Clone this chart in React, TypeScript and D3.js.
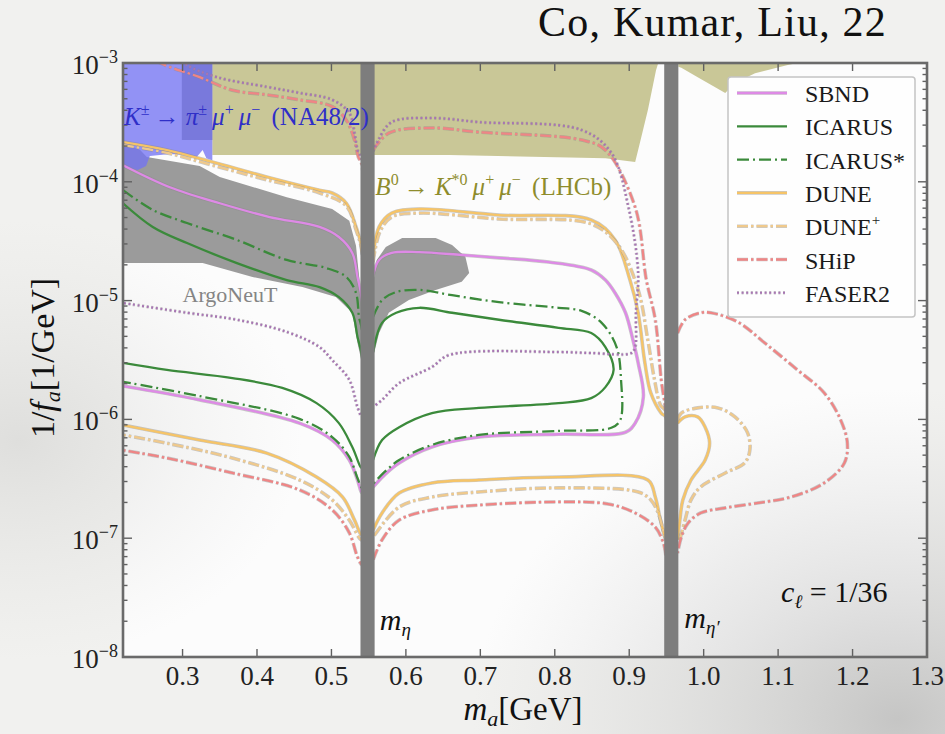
import React from 'react';
import * as d3 from 'd3';

type Pt = [number, number];

const W = 945;
const H = 734;
const margin = { top: 63, right: 18, bottom: 77, left: 123 };

// axis ticks
const massTicks = [0.3, 0.4, 0.5, 0.6, 0.7, 0.8, 0.9, 1.0, 1.1, 1.2, 1.3];
const massTickLabels = ['0.3', '0.4', '0.5', '0.6', '0.7', '0.8', '0.9', '1.0', '1.1', '1.2', '1.3'];
const couplingTicks = [1e-3, 1e-4, 1e-5, 1e-6, 1e-7, 1e-8];
const couplingTickExps = ['−3', '−4', '−5', '−6', '−7', '−8'];

// resonance bands (GeV)
const etaBand = [0.539, 0.558];
const etaPrimeBand = [0.947, 0.966];

// excluded regions [m_a, 1/f_a]
const lhcbRegion: Pt[] = [[0.340, 1e-3], [0.939, 1e-3], [0.936, 8.7e-4], [0.925, 4.0e-4], [0.912, 1.85e-4], [0.908, 1.47e-4], [0.868, 1.58e-4], [0.658, 1.68e-4], [0.340, 1.68e-4]];
const lhcbRegionRight: Pt[] = [[0.966, 1e-3], [0.966, 9.3e-4], [0.970, 9.1e-4], [0.992, 7.6e-4], [1.029, 5.6e-4], [1.042, 6.8e-4], [1.069, 8.2e-4], [1.113, 9.6e-4], [1.126, 1e-3]];
const na48Region: Pt[] = [[0.220, 1e-3], [0.340, 1e-3], [0.340, 1.52e-4], [0.332, 1.58e-4], [0.327, 1.85e-4], [0.319, 1.62e-4], [0.303, 1.68e-4], [0.283, 1.71e-4], [0.256, 1.65e-4], [0.251, 1.36e-4], [0.240, 1.26e-4], [0.220, 1.31e-4]];
const greyStrip: Pt[] = [[0.299, 1e-3], [0.340, 1e-3], [0.340, 2.25e-4], [0.299, 2.25e-4]];
const argoneutLeft: Pt[] = [[0.220, 2.12e-4], [0.243, 1.85e-4], [0.252, 1.62e-4], [0.323, 1.36e-4], [0.350, 1.1e-4], [0.440, 7.4e-5], [0.501, 5.9e-5], [0.524, 4.7e-5], [0.533, 2.9e-5], [0.537, 1.6e-5], [0.540, 1.0e-5], [0.540, 3.16e-6], [0.535, 4.4e-6], [0.528, 7.9e-6], [0.506, 1.07e-5], [0.461, 1.30e-5], [0.394, 1.58e-5], [0.327, 2.07e-5], [0.220, 2.07e-5]];
const argoneutRight: Pt[] = [[0.556, 1.41e-5], [0.561, 2.2e-5], [0.573, 2.83e-5], [0.595, 3.37e-5], [0.640, 3.37e-5], [0.662, 2.94e-5], [0.680, 2.33e-5], [0.685, 1.71e-5], [0.675, 1.44e-5], [0.640, 1.23e-5], [0.604, 1.01e-5], [0.577, 7.9e-6], [0.564, 5.33e-6], [0.556, 3.35e-6]];

// sensitivity contours, split by the eta / eta' bands
const sbndLeft: Pt[] = [[0.220, 1.38e-4], [0.283, 9.0e-5], [0.350, 6.6e-5], [0.417, 5.05e-5], [0.484, 4.17e-5], [0.510, 3.43e-5], [0.528, 2.52e-5], [0.535, 1.58e-5], [0.541, 1.0e-5], [0.541, 2.4e-7], [0.535, 3.09e-7], [0.524, 4.55e-7], [0.501, 6.7e-7], [0.457, 9.3e-7], [0.323, 1.46e-6], [0.220, 1.91e-6]];
const sbndMid: Pt[] = [[0.556, 1.64e-5], [0.564, 2.2e-5], [0.581, 2.52e-5], [0.618, 2.56e-5], [0.675, 2.42e-5], [0.725, 2.29e-5], [0.792, 2.11e-5], [0.849, 1.81e-5], [0.868, 1.49e-5], [0.881, 1.16e-5], [0.895, 7.9e-6], [0.905, 4.66e-6], [0.912, 2.99e-6], [0.919, 1.55e-6], [0.908, 9.3e-7], [0.895, 7.8e-7], [0.805, 7.5e-7], [0.698, 7.1e-7], [0.635, 5.86e-7], [0.591, 4.3e-7], [0.571, 3.4e-7], [0.556, 2.7e-7]];

const icarusLeft: Pt[] = [[0.220, 6.6e-5], [0.260, 4.17e-5], [0.306, 3.05e-5], [0.373, 2.07e-5], [0.440, 1.49e-5], [0.484, 1.30e-5], [0.510, 1.07e-5], [0.528, 7.9e-6], [0.535, 4.94e-6], [0.541, 3.35e-6], [0.541, 3.9e-7], [0.528, 5.86e-7], [0.510, 9.3e-7], [0.480, 1.37e-6], [0.434, 1.84e-6], [0.367, 2.23e-6], [0.279, 2.61e-6], [0.220, 2.99e-6]];
const icarusMid: Pt[] = [[0.556, 3.69e-6], [0.568, 6.5e-6], [0.587, 7.9e-6], [0.618, 8.7e-6], [0.662, 7.9e-6], [0.725, 6.9e-6], [0.805, 5.9e-6], [0.849, 5.33e-6], [0.868, 4.06e-6], [0.879, 2.61e-6], [0.868, 1.87e-6], [0.849, 1.51e-6], [0.805, 1.37e-6], [0.698, 1.25e-6], [0.635, 1.13e-6], [0.591, 8.6e-7], [0.568, 6.7e-7], [0.556, 4.55e-7]];

const icarusStarLeft: Pt[] = [[0.220, 8.5e-5], [0.260, 5.8e-5], [0.306, 4.5e-5], [0.373, 3.24e-5], [0.440, 2.2e-5], [0.493, 1.88e-5], [0.520, 1.58e-5], [0.533, 1.16e-5], [0.537, 7.3e-6], [0.541, 5.66e-6], [0.541, 2.65e-7], [0.535, 3.2e-7], [0.524, 4.83e-7], [0.501, 7.1e-7], [0.457, 1.01e-6], [0.323, 1.57e-6], [0.220, 2.07e-6]];
const icarusStarMid: Pt[] = [[0.556, 7.3e-6], [0.568, 1.01e-5], [0.587, 1.18e-5], [0.618, 1.23e-5], [0.662, 1.11e-5], [0.725, 9.7e-6], [0.805, 8.7e-6], [0.836, 8.2e-6], [0.863, 6.5e-6], [0.883, 4.06e-6], [0.889, 2.15e-6], [0.888, 9.9e-7], [0.876, 8.5e-7], [0.805, 8.0e-7], [0.698, 7.4e-7], [0.635, 6.1e-7], [0.591, 4.55e-7], [0.571, 3.6e-7], [0.556, 2.86e-7]];

const duneLeft: Pt[] = [[0.220, 2.16e-4], [0.279, 1.85e-4], [0.340, 1.47e-4], [0.413, 1.10e-4], [0.484, 8.5e-5], [0.501, 8.05e-5], [0.520, 6.6e-5], [0.533, 4.17e-5], [0.541, 2.67e-5], [0.541, 1.06e-7], [0.531, 1.42e-7], [0.515, 2.22e-7], [0.480, 3.27e-7], [0.413, 5.2e-7], [0.323, 6.7e-7], [0.220, 8.97e-7]];
const duneMid: Pt[] = [[0.556, 2.29e-5], [0.564, 4.17e-5], [0.581, 5.45e-5], [0.618, 5.9e-5], [0.725, 5.25e-5], [0.849, 4.77e-5], [0.881, 3.24e-5], [0.901, 1.49e-5], [0.912, 7.9e-6], [0.921, 3.0e-6], [0.929, 1.67e-6], [0.943, 1.13e-6], [0.950, 1.03e-6], [0.950, 9.7e-8], [0.942, 1.42e-7], [0.935, 2.22e-7], [0.925, 3.09e-7], [0.805, 3.27e-7], [0.698, 3.09e-7], [0.635, 2.92e-7], [0.591, 2.4e-7], [0.568, 1.63e-7], [0.556, 1.17e-7]];
const duneRight: Pt[] = [[0.965, 9.3e-7], [0.975, 1.05e-6], [0.992, 1.05e-6], [1.002, 8.6e-7], [1.008, 6.3e-7], [1.002, 4.55e-7], [0.983, 3.09e-7], [0.972, 2.1e-7], [0.968, 1.42e-7], [0.965, 9.7e-8]];

const dunePlusLeft: Pt[] = [[0.220, 2.04e-4], [0.279, 1.75e-4], [0.340, 1.38e-4], [0.413, 1.04e-4], [0.484, 8.05e-5], [0.520, 6.25e-5], [0.533, 3.93e-5], [0.541, 2.56e-5], [0.541, 9.7e-8], [0.524, 1.42e-7], [0.501, 2.1e-7], [0.457, 3.09e-7], [0.367, 4.73e-7], [0.279, 6.3e-7], [0.220, 7.4e-7]];
const dunePlusMid: Pt[] = [[0.556, 2.11e-5], [0.565, 3.78e-5], [0.581, 5.05e-5], [0.618, 5.45e-5], [0.725, 4.86e-5], [0.849, 4.41e-5], [0.885, 2.94e-5], [0.912, 1.23e-5], [0.925, 4.66e-6], [0.934, 2.15e-6], [0.942, 1.32e-6], [0.950, 1.15e-6], [0.950, 9.7e-8], [0.939, 1.63e-7], [0.929, 2.1e-7], [0.912, 2.45e-7], [0.805, 2.65e-7], [0.698, 2.45e-7], [0.635, 2.22e-7], [0.591, 1.83e-7], [0.556, 1.02e-7]];
const dunePlusRight: Pt[] = [[0.965, 9.9e-7], [0.970, 1.13e-6], [0.992, 1.25e-6], [1.019, 1.25e-6], [1.042, 1.05e-6], [1.059, 7.7e-7], [1.062, 5.5e-7], [1.055, 4.3e-7], [1.029, 3.54e-7], [0.996, 2.7e-7], [0.983, 2.1e-7], [0.975, 1.42e-7], [0.968, 9.7e-8]];

const shipLeft: Pt[] = [[0.243, 1.28e-3], [0.270, 1.0e-3], [0.323, 7.6e-4], [0.367, 5.9e-4], [0.413, 5.4e-4], [0.457, 4.9e-4], [0.501, 4.3e-4], [0.520, 3.3e-4], [0.531, 2.25e-4], [0.536, 1.62e-4], [0.541, 1.38e-4], [0.541, 6.0e-8], [0.535, 6.95e-8], [0.524, 1.11e-7], [0.501, 1.73e-7], [0.457, 2.55e-7], [0.367, 3.54e-7], [0.279, 4.73e-7], [0.220, 5.5e-7]];
const shipMid: Pt[] = [[0.556, 1.85e-4], [0.577, 2.57e-4], [0.635, 2.84e-4], [0.698, 2.62e-4], [0.836, 2.25e-4], [0.868, 1.85e-4], [0.908, 6.1e-5], [0.923, 1.49e-5], [0.935, 6.9e-6], [0.943, 2.15e-6], [0.950, 9.9e-7], [0.950, 6.95e-8], [0.946, 9.1e-8], [0.935, 1.24e-7], [0.908, 1.63e-7], [0.872, 1.94e-7], [0.805, 2.02e-7], [0.698, 1.9e-7], [0.635, 1.73e-7], [0.591, 1.42e-7], [0.568, 9.7e-8], [0.556, 6.55e-8]];
const shipRight: Pt[] = [[0.965, 5.33e-6], [0.975, 6.9e-6], [0.996, 7.9e-6], [1.010, 7.9e-6], [1.046, 6.6e-6], [1.082, 4.4e-6], [1.126, 2.61e-6], [1.162, 1.67e-6], [1.184, 9.9e-7], [1.193, 6.3e-7], [1.189, 4.3e-7], [1.162, 2.92e-7], [1.117, 2.22e-7], [1.073, 1.98e-7], [1.029, 1.8e-7], [0.996, 1.63e-7], [0.979, 1.34e-7], [0.970, 1.02e-7], [0.965, 7.5e-8]];

const faserLeft: Pt[] = [[0.290, 1.17e-3], [0.306, 9.6e-4], [0.346, 7.6e-4], [0.413, 6.3e-4], [0.457, 5.6e-4], [0.501, 4.9e-4], [0.524, 3.8e-4], [0.531, 2.57e-4], [0.535, 1.85e-4], [0.541, 1.52e-4], [0.541, 1.05e-6], [0.535, 1.27e-6], [0.524, 2.15e-6], [0.501, 3.16e-6], [0.484, 4.06e-6], [0.440, 5.45e-6], [0.373, 6.9e-6], [0.306, 7.9e-6], [0.220, 9.55e-6]];
const faserMid: Pt[] = [[0.556, 1.8e-4], [0.563, 2.25e-4], [0.581, 3.18e-4], [0.635, 3.44e-4], [0.698, 3.18e-4], [0.836, 2.73e-4], [0.876, 1.75e-4], [0.899, 6.1e-5], [0.912, 1.71e-5], [0.909, 7.9e-6], [0.908, 4.06e-6], [0.903, 3.62e-6], [0.849, 3.62e-6], [0.805, 3.69e-6], [0.658, 3.48e-6], [0.635, 2.76e-6], [0.591, 2.02e-6], [0.568, 1.46e-6], [0.556, 1.27e-6]];

const GREEN = '#3b8a3b';
const experiments = [
  { name: 'SBND', sup: '', color: '#de8ae6', width: 2.3, dash: '', segments: [sbndLeft, sbndMid] },
  { name: 'ICARUS', sup: '', color: GREEN, width: 2.3, dash: '', segments: [icarusLeft, icarusMid] },
  { name: 'ICARUS*', sup: '', color: GREEN, width: 2.3, dash: '12,4,2,4', segments: [icarusStarLeft, icarusStarMid] },
  { name: 'DUNE', sup: '', color: '#f6c467', width: 2.3, dash: '', segments: [duneLeft, duneMid, duneRight] },
  { name: 'DUNE', sup: '+', color: '#efc98c', width: 2.3, dash: '11,3,2.5,3', segments: [dunePlusLeft, dunePlusMid, dunePlusRight] },
  { name: 'SHiP', sup: '', color: '#ef8585', width: 2.3, dash: '11,3,2.5,3', segments: [shipLeft, shipMid, shipRight] },
  { name: 'FASER2', sup: '', color: '#a874b4', width: 2.1, dash: '2,2.6', segments: [faserLeft, faserMid] },
];

const FONT = 'Liberation Serif, DejaVu Serif, serif';

const App = () => {
  const x = d3.scaleLinear().domain([0.22, 1.3]).range([margin.left, W - margin.right]);
  const y = d3.scaleLog().domain([1e-8, 1e-3]).range([H - margin.bottom, margin.top]);
  const [x0, x1] = x.range();
  const [y0, y1] = [y(1e-3), y(1e-8)];

  const curve = d3.line<Pt>().x(d => x(d[0])).y(d => y(d[1])).curve(d3.curveCatmullRom.alpha(0.5));
  const poly = (pts: Pt[]) => (d3.line<Pt>().x(d => x(d[0])).y(d => y(d[1]))(pts) || '') + 'Z';

  const minor = y.ticks().filter(t => Math.abs(Math.log10(t) - Math.round(Math.log10(t))) > 1e-6);

  const sup = (s: string, size = 16, up = 10) => [
    <tspan key="a" dy={-up} fontSize={size}>{s}</tspan>,
    <tspan key="b" dy={up}>{'\u2009'}</tspan>,
  ];

  return (
    <svg width={W} height={H} style={{ position: 'absolute', left: 0, top: 0, fontFamily: FONT }}>
      <defs>
        <clipPath id="plotClip">
          <rect x={x0} y={y0} width={x1 - x0} height={y1 - y0} />
        </clipPath>
        <radialGradient id="cloud" cx="0.95" cy="0.98" r="0.45">
          <stop offset="0" stopColor="#a8a8a8" stopOpacity={0.6} />
          <stop offset="0.6" stopColor="#c4c4c4" stopOpacity={0.28} />
          <stop offset="1" stopColor="#d0d0d0" stopOpacity={0} />
        </radialGradient>
        <radialGradient id="cloudLeft" cx="0.02" cy="0.6" r="0.3">
          <stop offset="0" stopColor="#c8c8c6" stopOpacity={0.45} />
          <stop offset="1" stopColor="#d8d8d6" stopOpacity={0} />
        </radialGradient>
      </defs>

      <rect width={W} height={H} fill="#f1f1ef" />
      <rect x={x0} y={y0} width={x1 - x0} height={y1 - y0} fill="#fcfcfc" />
      <rect width={W} height={H} fill="url(#cloud)" />
      <rect width={W} height={H} fill="url(#cloudLeft)" />

      <g clipPath="url(#plotClip)">
        <path d={poly(lhcbRegion)} fill="#c9c797" />
        <path d={poly(lhcbRegionRight)} fill="#c9c797" />
        <path d={poly(argoneutLeft)} fill="#9b9b9b" />
        <path d={poly(argoneutRight)} fill="#9b9b9b" />
        <path d={poly(greyStrip)} fill="#8e8e8e" />
        <path d={poly(na48Region)} fill="#7373f2" fillOpacity={0.78} />

        {experiments.map(e =>
          e.segments.map((seg, i) => (
            <g key={e.name + e.sup + i}>
              {e.color !== GREEN && (
                <path d={curve(seg) || ''} fill="none" stroke="#8a8a8a" strokeOpacity={0.45}
                  strokeWidth={e.width + 1.3} strokeDasharray={e.dash || undefined} />
              )}
              <path d={curve(seg) || ''} fill="none" stroke={e.color}
                strokeWidth={e.width} strokeDasharray={e.dash || undefined} />
            </g>
          ))
        )}

        {[etaBand, etaPrimeBand].map((b, i) => (
          <rect key={i} x={x(b[0])} y={y0} width={x(b[1]) - x(b[0])} height={y1 - y0} fill="#7d7d7d" />
        ))}
      </g>

      {/* ticks */}
      <g stroke="#606060" strokeWidth={1.4}>
        {massTicks.slice(0, -1).map(t => (
          <g key={t}>
            <line x1={x(t)} x2={x(t)} y1={y1} y2={y1 - 8} />
            <line x1={x(t)} x2={x(t)} y1={y0} y2={y0 + 8} />
          </g>
        ))}
        {couplingTicks.map(t => (
          <g key={t}>
            <line x1={x0} x2={x0 + 9} y1={y(t)} y2={y(t)} />
            <line x1={x1} x2={x1 - 9} y1={y(t)} y2={y(t)} />
          </g>
        ))}
        {minor.map(t => (
          <g key={'m' + t}>
            <line x1={x0} x2={x0 + 4.5} y1={y(t)} y2={y(t)} />
            <line x1={x1} x2={x1 - 4.5} y1={y(t)} y2={y(t)} />
          </g>
        ))}
      </g>
      <rect x={x0} y={y0} width={x1 - x0} height={y1 - y0} fill="none" stroke="#6a6a6a" strokeWidth={2.6} />

      {/* tick labels */}
      <g fontSize={27} fill="#222">
        {massTicks.map((t, i) => (
          <text key={t} x={x(t)} y={y1 + 28} textAnchor="middle">{massTickLabels[i]}</text>
        ))}
        {couplingTicks.map((t, i) => (
          <text key={t} x={x0 - 5} y={y(t) + 11} textAnchor="end">
            10<tspan dy={-11} fontSize={18}>{couplingTickExps[i]}</tspan>
          </text>
        ))}
      </g>

      {/* axis titles */}
      <text x={523} y={720} fontSize={33} textAnchor="middle" fill="#111">
        <tspan fontStyle="italic">m</tspan>
        <tspan dy={6} fontSize={22} fontStyle="italic">a</tspan>
        <tspan dy={-6}>[GeV]</tspan>
      </text>
      <text transform="translate(54,358) rotate(-90)" fontSize={34} textAnchor="middle" fill="#111">
        1/<tspan fontStyle="italic">f</tspan>
        <tspan dy={6} fontSize={22} fontStyle="italic">a</tspan>
        <tspan dy={-6}>[1/GeV]</tspan>
      </text>

      <text x={887} y={36} fontSize={42} letterSpacing={1.2} textAnchor="end" fill="#111">Co, Kumar, Liu, 22</text>

      {/* annotations */}
      <text x={x(0.22) + 1} y={y(3.0e-4)} fontSize={25} fill="#2f2fc8">
        <tspan fontStyle="italic">K</tspan>{sup('±')}
        <tspan>→ </tspan>
        <tspan fontStyle="italic">π</tspan>{sup('±')}
        <tspan fontStyle="italic">μ</tspan>{sup('+')}
        <tspan fontStyle="italic">μ</tspan>{sup('−')}
        <tspan> (NA48/2)</tspan>
      </text>
      <text x={x(0.559)} y={y(7.75e-5)} fontSize={25} fill="#8e8c2c">
        <tspan fontStyle="italic">B</tspan>{sup('0')}
        <tspan>→ </tspan>
        <tspan fontStyle="italic">K</tspan>{sup('*0')}
        <tspan fontStyle="italic">μ</tspan>{sup('+')}
        <tspan fontStyle="italic">μ</tspan>{sup('−')}
        <tspan> (LHCb)</tspan>
      </text>
      <text x={x(0.30)} y={y(9.7e-6)} fontSize={22} fill="#858585">ArgoNeuT</text>
      <text x={x(0.565)} y={y(1.7e-8)} fontSize={30} fill="#111">
        <tspan fontStyle="italic">m</tspan>
        <tspan dy={6} fontSize={19} fontStyle="italic">η</tspan>
      </text>
      <text x={x(0.974)} y={y(1.75e-8)} fontSize={30} fill="#111">
        <tspan fontStyle="italic">m</tspan>
        <tspan dy={6} fontSize={19} fontStyle="italic">η′</tspan>
      </text>
      <text x={x(1.104)} y={y(2.9e-8)} fontSize={30} fill="#111">
        <tspan fontStyle="italic">c</tspan>
        <tspan dy={6} fontSize={19} fontStyle="italic">ℓ</tspan>
        <tspan dy={-6}> = 1/36</tspan>
      </text>

      {/* legend */}
      <g transform="translate(728,77)">
        <rect width={187} height={240} rx={3} fill="#fefefe" stroke="#c4c4c4" strokeWidth={1.5} />
        {experiments.map((e, i) => (
          <g key={e.name + e.sup} transform={`translate(0,${16 + i * 33.3})`}>
            <line x1={9} x2={59} y1={0} y2={0} stroke="#8a8a8a" strokeOpacity={e.color === GREEN ? 0 : 0.45}
              strokeWidth={e.width + 1.3} strokeDasharray={e.dash || undefined} />
            <line x1={9} x2={59} y1={0} y2={0} stroke={e.color} strokeWidth={e.width}
              strokeDasharray={e.dash || undefined} />
            <text x={77} y={9} fontSize={24} fill="#1a1a1a">
              {e.name}
              {e.sup && <tspan dy={-10} fontSize={15}>{e.sup}</tspan>}
            </text>
          </g>
        ))}
      </g>
    </svg>
  );
};

export default App;
